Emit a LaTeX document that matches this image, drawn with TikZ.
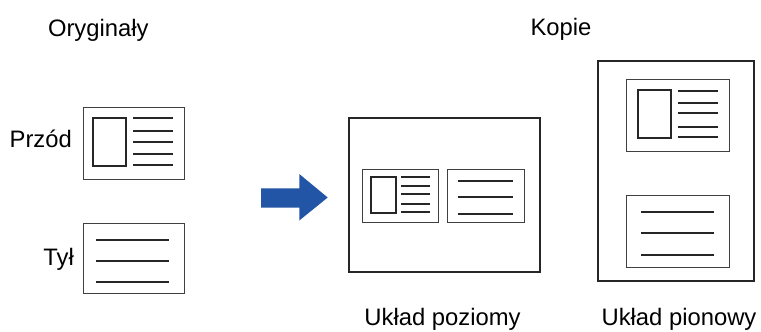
\documentclass[tikz,border=0pt]{standalone}
\usepackage{fontspec}
\setmainfont{Liberation Sans}
\definecolor{arrowblue}{RGB}{34,85,165}
\begin{document}
\begin{tikzpicture}[x=1pt,y=-1pt,
  page/.style={draw=black!85, line width=2pt},
  card/.style={draw=black!75, line width=1pt},
  photo/.style={draw=black!85, line width=1.8pt},
  tline/.style={draw=black!85, line width=1.7pt},
  lbl/.style={inner sep=0pt, font=\fontsize{23.8}{28}\selectfont}]
\useasboundingbox (0,0) rectangle (761,332);
% titles
\node[lbl, anchor=base] (orig) at (98.3,36) {Oryginały};
\node[lbl, anchor=base] (kopie) at (561,35) {Kopie};
\node[lbl, anchor=base east] (przod) at (72,147) {Przód};
\node[lbl, anchor=base east] (tyl) at (74,265) {Tył};
\node[lbl, anchor=base] (poz) at (442.5,325) {Układ poziomy};
\node[lbl, anchor=base] (pion) at (679,325) {Układ pionowy};
% original front
\draw[card] (83,107) rectangle (184,179);
\draw[photo] (93,118) rectangle (126,166);
\foreach \y in {118,130.7,141.7,154,164.7} \draw[tline] (133,\y) -- (173,\y);
% original back
\draw[card] (83,223.3) rectangle (184,293.3);
\foreach \y in {239.7,261.3,282.3} \draw[tline] (96,\y) -- (169.3,\y);
% arrow
\fill[arrowblue] (261,188.3) -- (299.3,188.3) -- (299.3,174) -- (327.7,197.5) -- (299.3,220.5) -- (299.3,207.7) -- (261,207.7) -- cycle;
% landscape copy
\draw[page] (349.3,118.3) rectangle (539.7,271.7);
\draw[card] (362.7,169.3) rectangle (438.7,222.7);
\draw[photo] (371,176.7) rectangle (395.7,212.7);
\foreach \y in {177,186.3,194.3,203.7,212} \draw[tline] (401,\y) -- (430,\y);
\draw[card] (447.7,169.3) rectangle (524,222.7);
\foreach \y in {181,197.3,213.7} \draw[tline] (457.7,\y) -- (512.7,\y);
% portrait copy
\draw[page] (598.3,61) rectangle (754,281);
\draw[card] (626.7,79.3) rectangle (729.3,151.7);
\draw[photo] (638.3,90) rectangle (671,138.3);
\foreach \y in {90.7,102.7,113.3,126.7,137.3} \draw[tline] (677.7,\y) -- (717.7,\y);
\draw[card] (626.7,195.3) rectangle (729.3,267.3);
\foreach \y in {212,233.3,254.7} \draw[tline] (641,\y) -- (714.3,\y);
\end{tikzpicture}
\end{document}
